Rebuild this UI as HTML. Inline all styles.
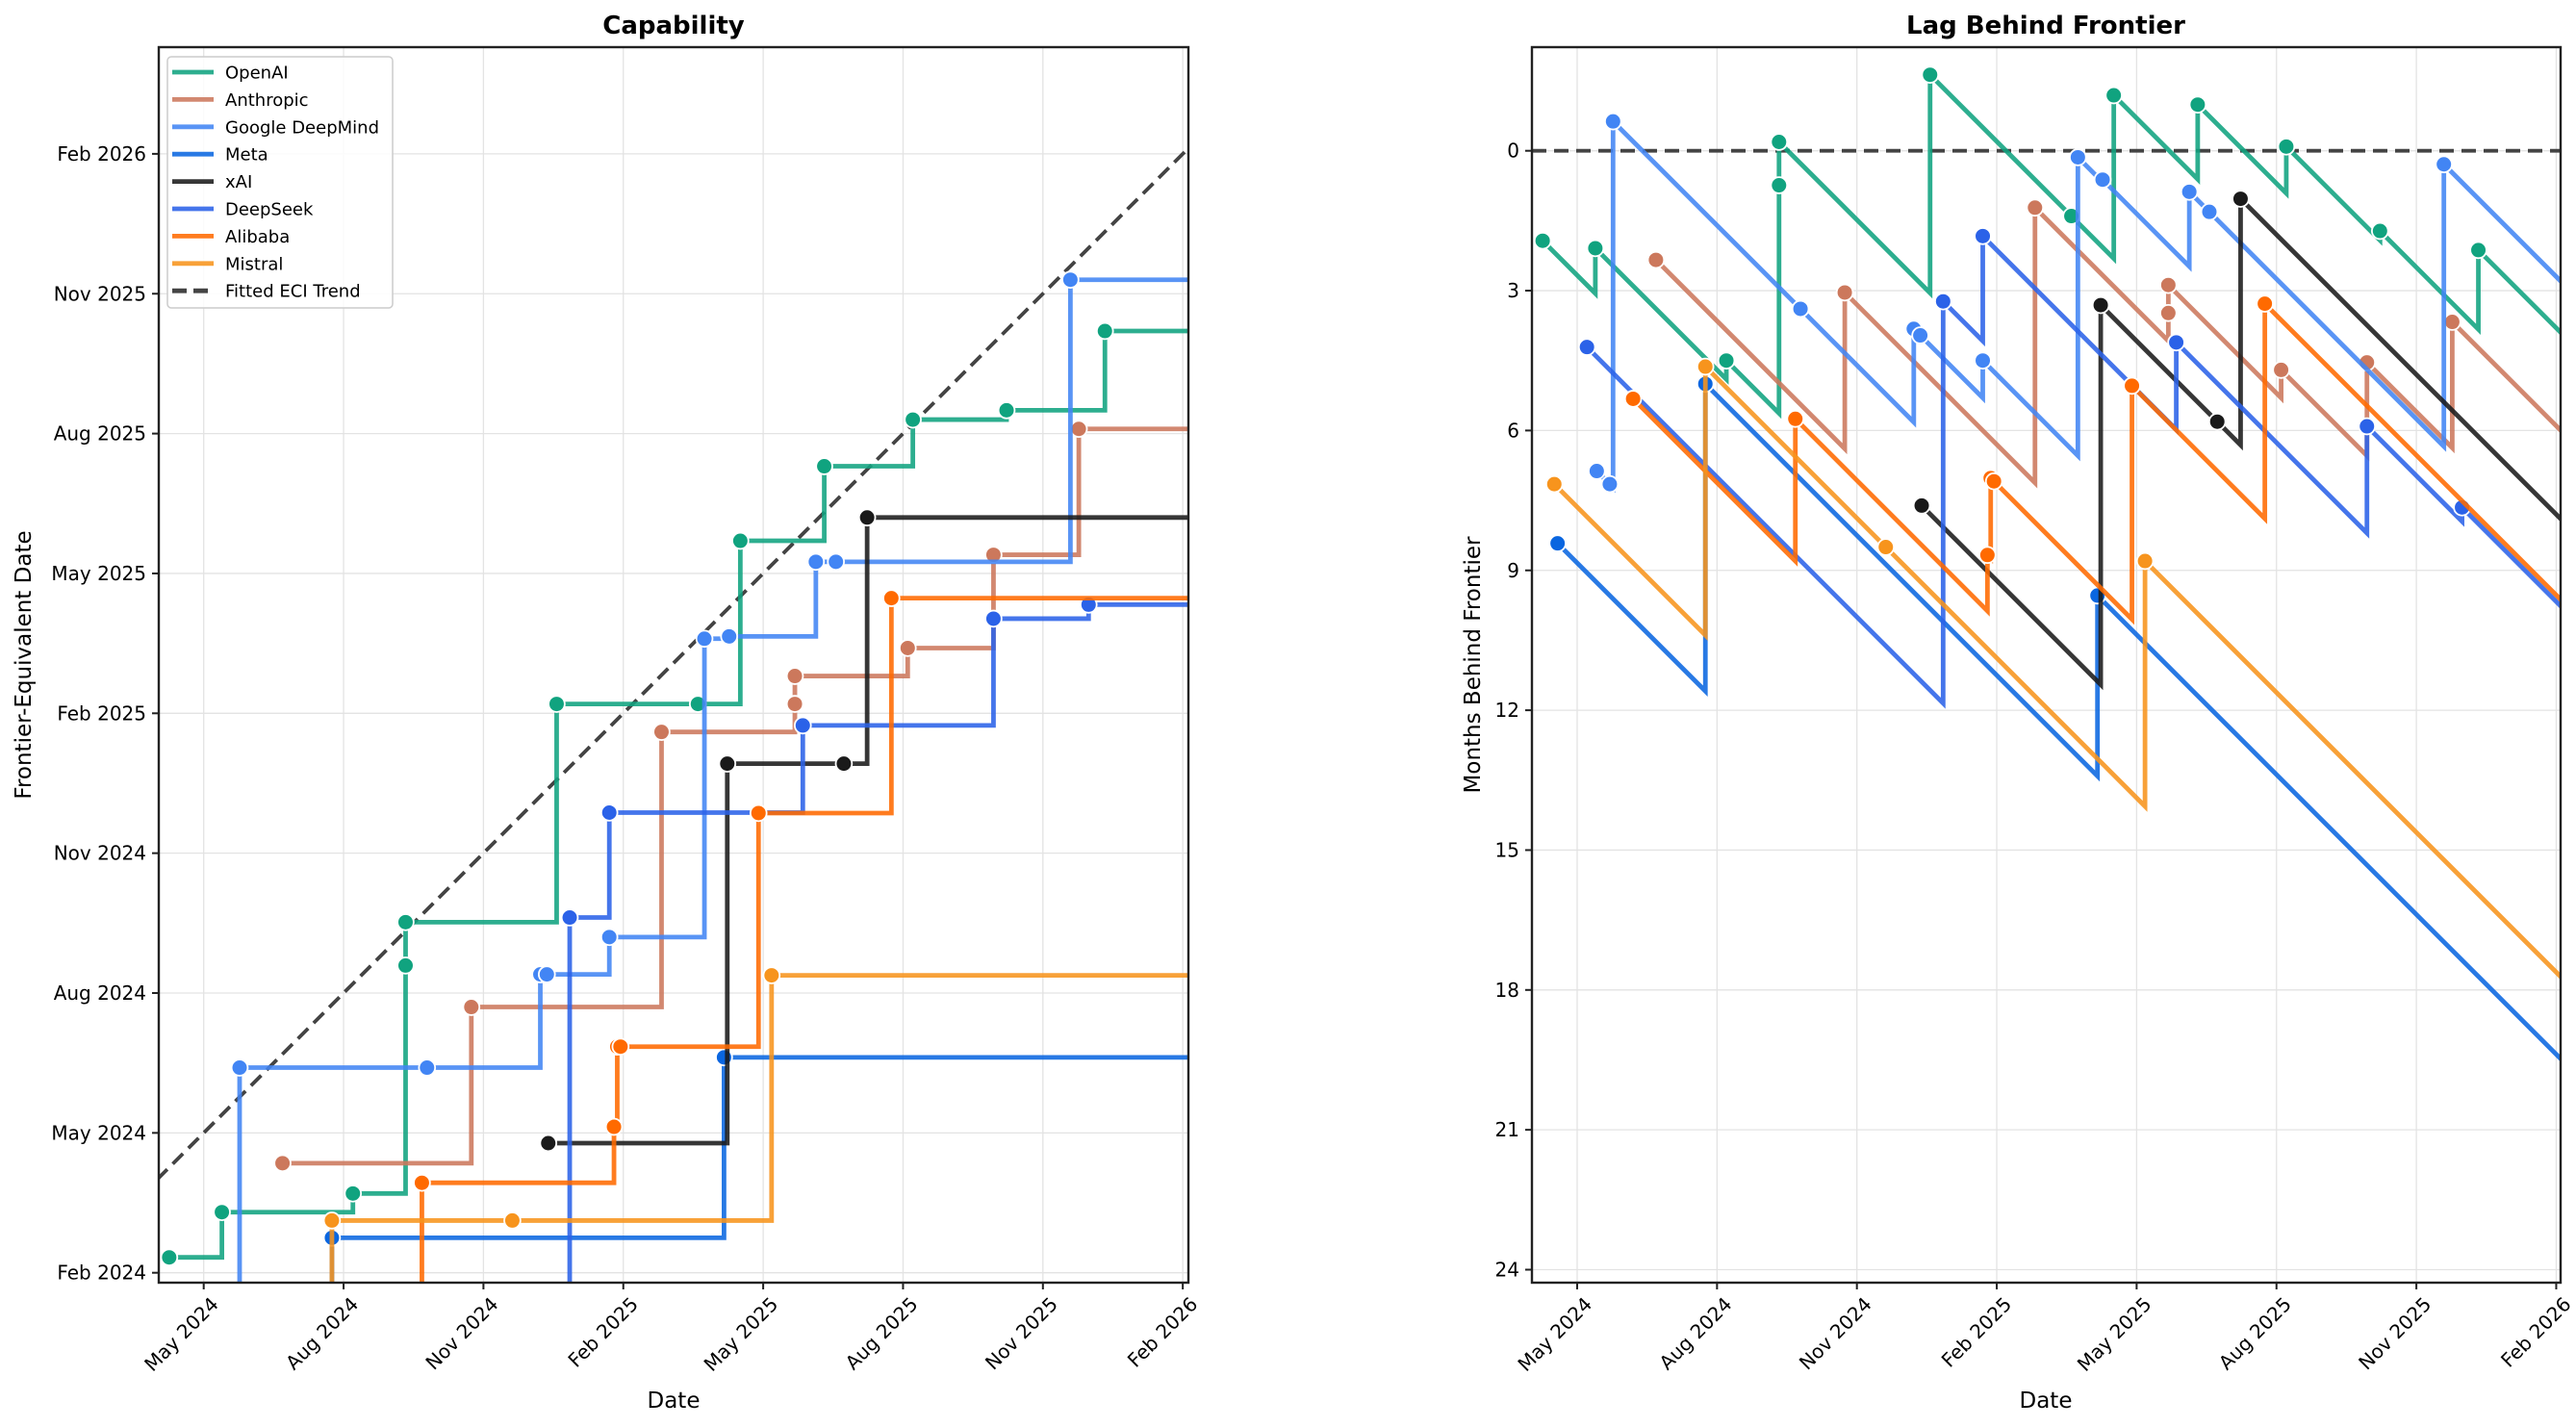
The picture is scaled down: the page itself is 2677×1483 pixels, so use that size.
<!DOCTYPE html>
<html><head><meta charset="utf-8"><title>Capability and Lag Behind Frontier</title>
<style>
html,body{margin:0;padding:0;background:#fff;overflow:hidden;width:2677px;height:1483px;}
svg{display:block;font-family:"DejaVu Sans","Liberation Sans",sans-serif;}
</style></head>
<body>
<svg id="chart" width="2677" height="1483" viewBox="0 0 2677 1483" xmlns="http://www.w3.org/2000/svg">
<defs>
<clipPath id="clipL"><rect x="165" y="49" width="1070" height="1284"/></clipPath>
<clipPath id="clipR"><rect x="1592" y="49" width="1069" height="1284"/></clipPath>
</defs>
<rect width="2677" height="1483" fill="#fff"/>
<g id="gridL"></g>
<g id="gridR"></g>
<g id="plotL" clip-path="url(#clipL)"></g>
<g id="plotR" clip-path="url(#clipR)"></g>
<rect x="165" y="49" width="1070" height="1284" fill="none" stroke="#222" stroke-width="2.4"/>
<rect x="1592" y="49" width="1069" height="1284" fill="none" stroke="#222" stroke-width="2.4"/>
<g id="ticks"></g>
<text x="700" y="35" text-anchor="middle" font-size="26" font-weight="bold">Capability</text>
<text x="2126" y="35" text-anchor="middle" font-size="26" font-weight="bold">Lag Behind Frontier</text>
<text x="700" y="1463" text-anchor="middle" font-size="23">Date</text>
<text x="2126" y="1463" text-anchor="middle" font-size="23">Date</text>
<text transform="translate(32,691) rotate(-90)" text-anchor="middle" font-size="23">Frontier-Equivalent Date</text>
<text transform="translate(1538,691) rotate(-90)" text-anchor="middle" font-size="23">Months Behind Frontier</text>
<g id="legend"></g>
</svg>
<script>
// months since Jan 1 2024 (Feb 2024 = 1)
const orgNames = ["OpenAI","Anthropic","Google DeepMind","Meta","xAI","DeepSeek","Alibaba","Mistral"];
const orgColors = ["#10a37f","#cc785c","#4285f4","#0a66e0","#1a1a1a","#2b62e8","#ff6a00","#f7941d"];
const openaiDates = [3.26,4.39,7.20,8.33,8.33,11.57,14.60,15.51,17.31,19.21,21.22,23.33];
const openaiCaps  = [1.33,2.30,2.70,7.59,8.52,13.2,13.2,16.7,18.3,19.3,19.5,21.2];
const anthropicDates = [5.69,9.74,13.82,16.68,16.68,19.10,20.94,22.77];
const anthropicCaps  = [3.35,6.70,12.6,13.2,13.8,14.4,16.4,19.1];
const googleDates = [4.42,4.70,4.77,8.79,11.22,11.36,12.70,14.74,15.27,17.13,17.56,22.59];
const googleCaps  = [-2.45,-2.45,5.40,5.40,7.40,7.40,8.20,14.6,14.65,16.25,16.25,22.3];
const metaDates = [3.58,6.75,15.16];
const metaCaps  = [-4.84,1.75,5.62];
const xaiDates = [11.39,15.23,17.73,18.23];
const xaiCaps  = [3.78,11.92,11.92,17.2];
const deepseekDates = [4.21,11.85,12.70,16.85,20.94,22.98];
const deepseekCaps  = [0.0,8.62,10.87,12.74,15.03,15.33];
const alibabaDates = [5.20,8.68,12.80,12.87,12.94,15.90,18.75];
const alibabaCaps  = [-0.12,2.93,4.13,5.85,5.85,10.86,15.47];
const mistralDates = [3.51,6.75,10.62,16.18];
const mistralCaps  = [-3.64,2.12,2.12,7.38];
const trendDates = [3.0,25.2];
const trendCaps  = [3.0,25.2];
const capTickMonths = [1,4,7,10,13,16,19,22,25];
const capTickLabels = ["Feb 2024","May 2024","Aug 2024","Nov 2024","Feb 2025","May 2025","Aug 2025","Nov 2025","Feb 2026"];
const dateTickMonths = [4,7,10,13,16,19,22,25];
const dateTickLabels = ["May 2024","Aug 2024","Nov 2024","Feb 2025","May 2025","Aug 2025","Nov 2025","Feb 2026"];
const lagTicks = [0,3,6,9,12,15,18,21,24];

const allDates = [openaiDates,anthropicDates,googleDates,metaDates,xaiDates,deepseekDates,alibabaDates,mistralDates];
const allCaps = [openaiCaps,anthropicCaps,googleCaps,metaCaps,xaiCaps,deepseekCaps,alibabaCaps,mistralCaps];

const NS="http://www.w3.org/2000/svg";
const PX=48.45;
function xL(m){return 211.7+(m-4)*PX;}
function yL(c){return 1322.7-(c-1)*PX;}
function xR(m){return 1639+(m-4)*PX;}
function yR(l){return 156.7+l*PX;}
const XMAX=25.2;
function mk(tag,attrs,parent){const e=document.createElementNS(NS,tag);for(const k in attrs)e.setAttribute(k,attrs[k]);parent.appendChild(e);return e;}
function slug(s){return s.toLowerCase().replace(/\s+/g,'-');}

const gridL=document.getElementById('gridL'),gridR=document.getElementById('gridR');
const ticks=document.getElementById('ticks');
capTickMonths.forEach((m,i)=>{
  const y=yL(m);
  const g=mk('line',{x1:165,x2:1235,y1:y,y2:y,stroke:'#e3e3e3','stroke-width':1.3},gridL);
  
  
  const t=mk('line',{x1:158,x2:165,y1:y,y2:y,stroke:'#222','stroke-width':2},ticks);
  
  
  const tx=mk('text',{x:152,y:y+7,'text-anchor':'end','font-size':20},ticks);
  tx.textContent=capTickLabels[i];
  
  
});
dateTickMonths.forEach((m,i)=>{
  [[xL(m),'left'],[xR(m),'right']].forEach(([x,side])=>{
    const g=mk('line',{x1:x,x2:x,y1:49,y2:1333,stroke:'#e3e3e3','stroke-width':1.3},side==='left'?gridL:gridR);
    
    
    const t=mk('line',{x1:x,x2:x,y1:1333,y2:1340,stroke:'#222','stroke-width':2},ticks);
    
    
    const tx=mk('text',{transform:'translate('+(x+6)+',1346) rotate(-45)','text-anchor':'end','font-size':20,dy:'0.75em'},ticks);
    tx.textContent=dateTickLabels[i];
    
    
  });
});
lagTicks.forEach(v=>{
  const y=yR(v);
  const g=mk('line',{x1:1592,x2:2661,y1:y,y2:y,stroke:'#e3e3e3','stroke-width':1.3},gridR);
  
  
  const t=mk('line',{x1:1585,x2:1592,y1:y,y2:y,stroke:'#222','stroke-width':2},ticks);
  
  
  const tx=mk('text',{x:1579,y:y+7,'text-anchor':'end','font-size':20},ticks);
  tx.textContent=String(v);
  
  
});

const plotL=document.getElementById('plotL'),plotR=document.getElementById('plotR');
const tr=mk('line',{x1:xL(trendDates[0]),y1:yL(trendCaps[0]),x2:xL(trendDates[1]),y2:yL(trendCaps[1]),stroke:'#444','stroke-width':3.8,'stroke-dasharray':'15,8'},plotL);


const zl=mk('line',{x1:1592,y1:yR(0),x2:2661,y2:yR(0),stroke:'#444','stroke-width':3.8,'stroke-dasharray':'15,8'},plotR);



allDates.forEach((ds,k)=>{
  const cs=allCaps[k],col=orgColors[k],nm=slug(orgNames[k]);
  let d='M'+xL(ds[0])+','+yL(cs[0]);
  for(let i=1;i<ds.length;i++){d+=' H'+xL(ds[i])+' V'+yL(cs[i]);}
  d+=' H'+xL(XMAX);
  const p=mk('path',{d:d,fill:'none',stroke:col,'stroke-width':4.8,'stroke-opacity':0.88},plotL);
  
  
  let d2='M'+xR(ds[0])+','+yR(ds[0]-cs[0]);
  for(let i=1;i<ds.length;i++){
    d2+=' L'+xR(ds[i])+','+yR(ds[i]-cs[i-1])+' L'+xR(ds[i])+','+yR(ds[i]-cs[i]);
  }
  const last=cs[cs.length-1];
  d2+=' L'+xR(XMAX)+','+yR(XMAX-last);
  const p2=mk('path',{d:d2,fill:'none',stroke:col,'stroke-width':4.8,'stroke-opacity':0.88},plotR);
  
  
  ds.forEach((m,i)=>{
    const c1=mk('circle',{cx:xL(m),cy:yL(cs[i]),r:8.4,fill:col,stroke:'#fff','stroke-width':1.8},plotL);
    
    
    const c2=mk('circle',{cx:xR(m),cy:yR(m-cs[i]),r:8.4,fill:col,stroke:'#fff','stroke-width':1.8},plotR);
    
    
  });
});

const lg=document.getElementById('legend');
const box=mk('rect',{x:174,y:59,width:234,height:261,rx:4,fill:'#fff','fill-opacity':0.85,stroke:'#ccc','stroke-width':1.5},lg);


const legNames=orgNames.concat(["Fitted ECI Trend"]);
legNames.forEach((n,i)=>{
  const y=75+i*28.4;
  const isTrend=i===orgNames.length;
  const l=mk('line',{x1:179,x2:222,y1:y,y2:y,stroke:isTrend?'#444':orgColors[i],'stroke-width':4.8,'stroke-opacity':isTrend?1:0.88},lg);
  if(isTrend)l.setAttribute('stroke-dasharray','15,7');
  
  
  const t=mk('text',{x:234,y:y+6.5,'font-size':18},lg);
  t.textContent=n;
  
  
});
</script>
</body></html>
